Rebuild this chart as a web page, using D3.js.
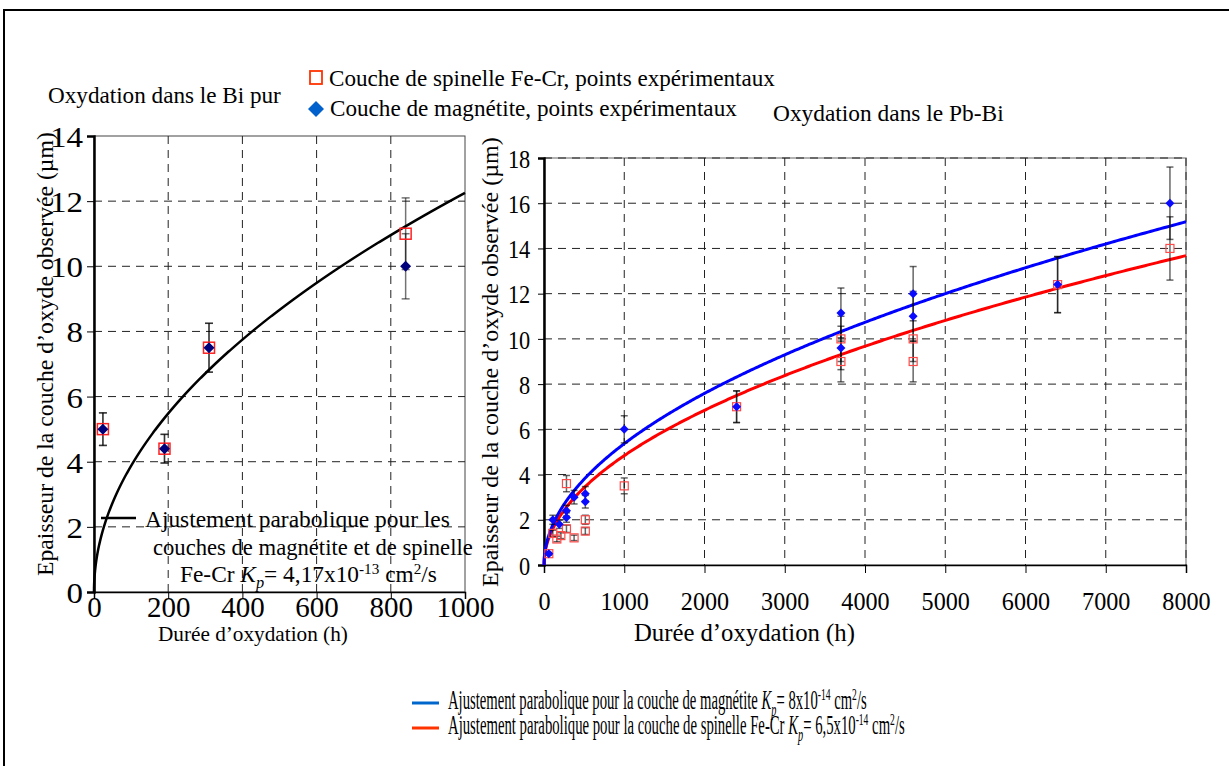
<!DOCTYPE html>
<html><head><meta charset="utf-8">
<script src="https://cdn.jsdelivr.net/npm/d3@7"></script>
<style>html,body{margin:0;padding:0;background:#fff;overflow:hidden}</style>
</head><body>
<svg id="chart" width="1229" height="766"></svg>
<script>
// ---------------- DATA ----------------
// Left chart: oxidation in pure Bi
const leftTimes = [24, 190, 310, 840];
const leftSpinel = [5.0, 4.4, 7.5, 11.0];
const leftSpinelErr = [0.5, 0.44, 0.75, 1.1];
const leftMagnetite = [5.0, 4.4, 7.5, 10.0];
const leftMagnetiteErr = [0.5, 0.44, 0.75, 1.0];
const leftKp = 4.17e-13; // cm2/s

// Right chart: oxidation in Pb-Bi
const rightSpinelTimes = [60, 110, 160, 210, 280, 280, 375, 515, 515, 1000, 2400, 3700, 3700, 4600, 4600, 6400, 7800];
const rightSpinel = [0.5, 1.4, 1.15, 1.3, 3.6, 1.6, 1.2, 2.0, 1.5, 3.5, 7.0, 10.0, 9.0, 10.0, 9.0, 12.4, 14.0];
const rightSpinelErr = [0.05, 0.14, 0.12, 0.13, 0.36, 0.16, 0.12, 0.2, 0.15, 0.35, 0.7, 1.0, 0.9, 1.0, 0.9, 1.24, 1.4];
const rightMagnetiteTimes = [60, 110, 190, 280, 280, 375, 515, 515, 1000, 2400, 3700, 3700, 4600, 4600, 6400, 7800];
const rightMagnetite = [0.5, 2.0, 1.8, 2.4, 2.1, 3.0, 3.15, 2.8, 6.0, 7.0, 11.15, 9.6, 12.0, 11.0, 12.4, 16.0];
const rightMagnetiteErr = [0.05, 0.2, 0.18, 0.24, 0.21, 0.3, 0.32, 0.28, 0.6, 0.7, 1.1, 0.96, 1.2, 1.1, 1.24, 1.6];
const rightKpMagnetite = 8e-14;  // cm2/s
const rightKpSpinel = 6.5e-14;   // cm2/s

// Tick labels
const leftXTicks = [0, 200, 400, 600, 800, 1000];
const leftYTicks = [0, 2, 4, 6, 8, 10, 12, 14];
const rightXTicks = [0, 1000, 2000, 3000, 4000, 5000, 6000, 7000, 8000];
const rightYTicks = [0, 2, 4, 6, 8, 10, 12, 14, 16, 18];

// Texts
const yTitle = "Epaisseur de la couche d\u2019oxyde observ\u00e9e (\u00b5m)";
const xTitle = "Dur\u00e9e d\u2019oxydation (h)";

// ---------------- HELPERS ----------------
const FONT = "Liberation Serif, Times New Roman, serif";
const svg = d3.select('#chart');

// parabolic law thickness (µm) from Kp (cm2/s) and time (h)
const parabolic = (Kp, h) => Math.sqrt(Kp * h * 3600) * 1e4;

// o.mode: 'uniform' scales font-size to reach width w; 'condense' keeps fs and squeezes horizontally
function fitText(parent, parts, o) {
  const build = fs => {
    const t = parent.append('text').attr('font-family', FONT).attr('font-size', fs)
      .attr('fill', '#000').attr('text-anchor', o.anchor || 'start');
    let shift = 0;
    parts.forEach(p => {
      const item = typeof p === 'string' ? {t: p} : p;
      const sp = t.append('tspan').text(item.t);
      let target = 0;
      if (item.s === 'sub') { target = fs * 0.25; sp.attr('font-size', fs * 0.7); }
      if (item.s === 'sup') { target = -fs * 0.35; sp.attr('font-size', fs * 0.65); }
      if (item.i) sp.attr('font-style', 'italic');
      if (target !== shift) { sp.attr('dy', target - shift); shift = target; }
    });
    return t;
  };
  let t = build(o.fs);
  const bw = t.node().getBBox().width;
  let s = 1;
  if (o.mode === 'condense') {
    s = o.w / bw;
  } else {
    t.remove();
    t = build(o.fs * o.w / bw);
  }
  let tr = `translate(${o.x},${o.y})`;
  if (o.rot) tr += ' rotate(-90)';
  if (s !== 1) tr += ` scale(${s},1)`;
  t.attr('transform', tr);
  return t;
}

// outer frame
svg.append('rect').attr('x', 4).attr('y', 10).attr('width', 1240).attr('height', 780)
  .attr('fill', 'none').attr('stroke', '#000').attr('stroke-width', 2);

// ---------------- LEFT CHART ----------------
const L = {x0: 94, x1: 465, y0: 592, y1: 136};
const lx = d3.scaleLinear().domain([0, 1000]).range([L.x0, L.x1]);
const ly = d3.scaleLinear().domain([0, 14]).range([L.y0, L.y1]);
const gl = svg.append('g');

gl.append('rect').attr('x', L.x0).attr('y', L.y1).attr('width', L.x1 - L.x0).attr('height', L.y0 - L.y1)
  .attr('fill', 'none').attr('stroke', '#444').attr('stroke-width', 1);
gl.append('g').selectAll('line').data(leftYTicks.filter(v => v > 0 && v < 14)).join('line')
  .attr('x1', L.x0).attr('x2', L.x1).attr('y1', d => ly(d)).attr('y2', d => ly(d))
  .attr('stroke', '#222').attr('stroke-dasharray', '8,6').attr('stroke-width', 1);
gl.append('g').selectAll('line').data(leftXTicks.filter(v => v > 0 && v < 1000)).join('line')
  .attr('x1', d => lx(d)).attr('x2', d => lx(d)).attr('y1', L.y1).attr('y2', L.y0)
  .attr('stroke', '#222').attr('stroke-dasharray', '8,6').attr('stroke-width', 1);

const lxAxis = gl.append('g').attr('transform', `translate(0,${L.y0})`)
  .call(d3.axisBottom(lx).tickValues(leftXTicks).tickSize(7).tickFormat(d3.format('d')));
lxAxis.select('.domain').attr('stroke-width', 1.5);
lxAxis.selectAll('text').attr('font-family', FONT).attr('font-size', 29).attr('fill', '#000')
  .attr('y', 25).attr('dy', null);
const lyAxis = gl.append('g').attr('transform', `translate(${L.x0},0)`)
  .call(d3.axisLeft(ly).tickValues(leftYTicks).tickSize(7).tickFormat(d3.format('d')));
lyAxis.select('.domain').attr('stroke-width', 2.5);
lyAxis.selectAll('text').attr('font-family', FONT).attr('font-size', 30).attr('fill', '#000')
  .attr('x', -10).attr('dy', '0.35em').attr('transform', 'scale(1.1,1)');

const leftCurveT = d3.range(0, 401).map(i => 1000 * Math.pow(i / 400, 2));
gl.append('path').datum(leftCurveT)
  .attr('d', d3.line().x(t => lx(t)).y(t => ly(parabolic(leftKp, t))))
  .attr('fill', 'none').attr('stroke', '#000').attr('stroke-width', 2.5);

function errBars(g, xs, ys, es, xsc, ysc, cap, color, op) {
  const eg = g.append('g').attr('stroke', color).attr('stroke-opacity', op).attr('stroke-width', 1.5);
  d3.range(xs.length).forEach(i => {
    const x = xsc(xs[i]), yt = ysc(ys[i] + es[i]), yb = ysc(ys[i] - es[i]);
    eg.append('line').attr('x1', x).attr('x2', x).attr('y1', yt).attr('y2', yb);
    eg.append('line').attr('x1', x - cap).attr('x2', x + cap).attr('y1', yt).attr('y2', yt);
    eg.append('line').attr('x1', x - cap).attr('x2', x + cap).attr('y1', yb).attr('y2', yb);
  });
}
errBars(gl, leftTimes, leftSpinel, leftSpinelErr, lx, ly, 4, '#000', 0.55);
errBars(gl, leftTimes, leftMagnetite, leftMagnetiteErr, lx, ly, 4, '#000', 0.55);

const diamond = r => `M0,${-r}L${r},0L0,${r}L${-r},0Z`;
gl.append('g').selectAll('rect').data(d3.range(leftTimes.length)).join('rect')
  .attr('x', i => lx(leftTimes[i]) - 5.5).attr('y', i => ly(leftSpinel[i]) - 5.5)
  .attr('width', 11).attr('height', 11).attr('fill', 'none').attr('stroke', '#ff2020').attr('stroke-width', 1.5);
gl.append('g').selectAll('path').data(d3.range(leftTimes.length)).join('path')
  .attr('transform', i => `translate(${lx(leftTimes[i])},${ly(leftMagnetite[i])})`)
  .attr('d', diamond(5.5)).attr('fill', '#00007a');

// inner legend (left)
gl.append('line').attr('x1', 101).attr('x2', 136).attr('y1', 518).attr('y2', 518)
  .attr('stroke', '#000').attr('stroke-width', 2.5);
fitText(gl, ['Ajustement parabolique pour les'], {x: 145, y: 527, w: 305, fs: 22});
fitText(gl, ['couches de magn\u00e9tite et de spinelle'], {x: 153, y: 555, w: 320, fs: 22});
fitText(gl, ['Fe-Cr ', {t: 'K', i: true}, {t: 'p', i: true, s: 'sub'}, '= 4,17x10', {t: '-13', s: 'sup'}, ' cm', {t: '2', s: 'sup'}, '/s'],
  {x: 180, y: 582, w: 257, fs: 22});

// titles left
fitText(svg, ['Oxydation dans le Bi pur'], {x: 48, y: 103, w: 233, fs: 21});
fitText(svg, [yTitle], {x: 53, y: 576, w: 444, fs: 24, rot: true});
fitText(svg, [xTitle], {x: 158, y: 641, w: 190, fs: 22});

// ---------------- RIGHT CHART ----------------
const R = {x0: 544, x1: 1186, y0: 565, y1: 158};
const rx = d3.scaleLinear().domain([0, 8000]).range([R.x0, R.x1]);
const ry = d3.scaleLinear().domain([0, 18]).range([R.y0, R.y1]);
const gr = svg.append('g');

gr.append('rect').attr('x', R.x0).attr('y', R.y1).attr('width', R.x1 - R.x0).attr('height', R.y0 - R.y1)
  .attr('fill', 'none').attr('stroke', '#999').attr('stroke-width', 1.5);
gr.append('g').selectAll('line').data(rightYTicks.filter(v => v > 0)).join('line')
  .attr('x1', R.x0).attr('x2', R.x1).attr('y1', d => ry(d)).attr('y2', d => ry(d))
  .attr('stroke', '#222').attr('stroke-dasharray', '8,6').attr('stroke-width', 1);
gr.append('g').selectAll('line').data(rightXTicks.filter(v => v > 0)).join('line')
  .attr('x1', d => rx(d)).attr('x2', d => rx(d)).attr('y1', R.y1).attr('y2', R.y0)
  .attr('stroke', '#222').attr('stroke-dasharray', '8,6').attr('stroke-width', 1);

const rxAxis = gr.append('g').attr('transform', `translate(0,${R.y0})`)
  .call(d3.axisBottom(rx).tickValues(rightXTicks).tickSize(8).tickFormat(d3.format('d')));
rxAxis.select('.domain').attr('stroke-width', 1.5);
rxAxis.selectAll('text').attr('font-family', FONT).attr('font-size', 26).attr('fill', '#000')
  .attr('y', 45).attr('dy', null).attr('transform', 'scale(0.93,1)');
const ryAxis = gr.append('g').attr('transform', `translate(${R.x0},0)`)
  .call(d3.axisLeft(ry).tickValues(rightYTicks).tickSize(6).tickFormat(d3.format('d')));
ryAxis.select('.domain').attr('stroke-width', 2.5);
ryAxis.selectAll('text').attr('font-family', FONT).attr('font-size', 26).attr('fill', '#000')
  .attr('x', -16).attr('dy', '0.35em').attr('transform', 'scale(0.86,1)');

const rightCurveT = d3.range(0, 401).map(i => 8000 * Math.pow(i / 400, 2));
gr.append('path').datum(rightCurveT)
  .attr('d', d3.line().x(t => rx(t)).y(t => ry(parabolic(rightKpSpinel, t))))
  .attr('fill', 'none').attr('stroke', '#ff0000').attr('stroke-width', 3);
gr.append('path').datum(rightCurveT)
  .attr('d', d3.line().x(t => rx(t)).y(t => ry(parabolic(rightKpMagnetite, t))))
  .attr('fill', 'none').attr('stroke', '#0000ff').attr('stroke-width', 3);

errBars(gr, rightSpinelTimes, rightSpinel, rightSpinelErr, rx, ry, 3.5, '#000', 0.6);
errBars(gr, rightMagnetiteTimes, rightMagnetite, rightMagnetiteErr, rx, ry, 3.5, '#000', 0.6);

gr.append('g').selectAll('rect').data(d3.range(rightSpinelTimes.length)).join('rect')
  .attr('x', i => rx(rightSpinelTimes[i]) - 4).attr('y', i => ry(rightSpinel[i]) - 4)
  .attr('width', 8).attr('height', 8).attr('fill', 'none').attr('stroke', '#ff4a4a').attr('stroke-width', 1.2);
gr.append('g').selectAll('path').data(d3.range(rightMagnetiteTimes.length)).join('path')
  .attr('transform', i => `translate(${rx(rightMagnetiteTimes[i])},${ry(rightMagnetite[i])})`)
  .attr('d', diamond(4.5)).attr('fill', '#0a0aff');

// titles right
fitText(svg, ['Oxydation dans le Pb-Bi'], {x: 773, y: 121, w: 231, fs: 21});
fitText(svg, [yTitle], {x: 498, y: 587, w: 450, fs: 24, rot: true});
fitText(svg, [xTitle], {x: 634, y: 641, w: 221, fs: 24});

// ---------------- TOP LEGEND ----------------
svg.append('rect').attr('x', 310).attr('y', 71).attr('width', 12).attr('height', 13)
  .attr('fill', 'none').attr('stroke', '#ff3300').attr('stroke-width', 1.8);
fitText(svg, ['Couche de spinelle Fe-Cr, points exp\u00e9rimentaux'], {x: 329, y: 86, w: 446, fs: 22});
svg.append('path').attr('transform', 'translate(316,109)').attr('d', diamond(8)).attr('fill', '#0060cc');
fitText(svg, ['Couche de magn\u00e9tite, points exp\u00e9rimentaux'], {x: 330, y: 116, w: 407, fs: 22});

// ---------------- BOTTOM LEGEND ----------------
svg.append('line').attr('x1', 412).attr('x2', 439).attr('y1', 703).attr('y2', 703)
  .attr('stroke', '#0066cc').attr('stroke-width', 3);
fitText(svg, ['Ajustement parabolique pour la couche de magn\u00e9tite ', {t: 'K', i: true}, {t: 'p', i: true, s: 'sub'},
  '= 8x10', {t: '-14', s: 'sup'}, ' cm', {t: '2', s: 'sup'}, '/s'], {x: 448, y: 709, w: 419, fs: 27, mode: 'condense'});
svg.append('line').attr('x1', 412).attr('x2', 439).attr('y1', 728).attr('y2', 728)
  .attr('stroke', '#ff3300').attr('stroke-width', 3);
fitText(svg, ['Ajustement parabolique pour la couche de spinelle Fe-Cr ', {t: 'K', i: true}, {t: 'p', i: true, s: 'sub'},
  '= 6,5x10', {t: '-14', s: 'sup'}, ' cm', {t: '2', s: 'sup'}, '/s'], {x: 448, y: 734, w: 457, fs: 27, mode: 'condense'});
</script>
</body></html>
